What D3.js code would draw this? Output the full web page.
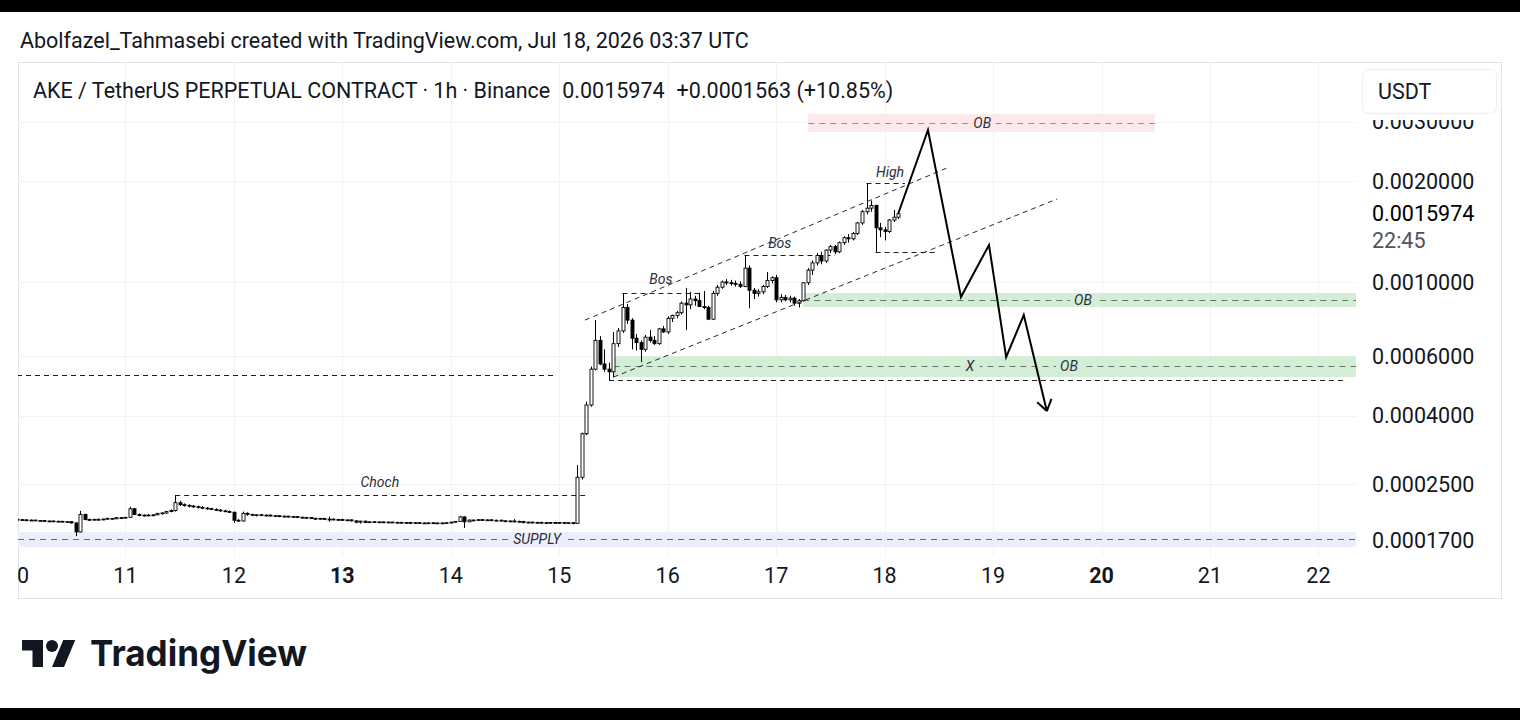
<!DOCTYPE html>
<html>
<head>
<meta charset="utf-8">
<script src="https://cdn.jsdelivr.net/npm/d3@7"></script>
<style>
  body { margin: 0; background: #fff; }
  svg { display: block; font-family: Roboto, "Noto Sans", sans-serif; }
  .note { font-style: italic; font-size: 14px; fill: #2a2e39; }
  .axis-label { font-size: 21.5px; fill: #131722; }
</style>
</head>
<body>
<svg id="chart" width="1520" height="720"></svg>
<script>
const PRICE_UNIT = 1e-7;                 // candle values are in 1e-7 USDT
const START = Date.UTC(2026, 6, 10);     // first candle, Jul 10 00:00 UTC
const HOUR = 3600 * 1000;

// hourly candles [open, high, low, close]
const jul10 = [
  [1962,1970,1952,1958],[1958,1966,1948,1955],[1955,1962,1946,1950],[1950,1960,1942,1952],
  [1952,1958,1940,1944],[1944,1952,1936,1946],[1946,1950,1932,1938],[1938,1948,1930,1940],
  [1940,1946,1928,1934],[1934,1944,1926,1936],[1936,1942,1925,1930],[1930,1940,1920,1932],
  [1932,1938,1905,1915],[1915,1920,1750,1800],[1800,2080,1795,2030],[2030,2040,1950,1960],
  [1960,1972,1950,1955],[1955,1968,1948,1962],[1962,1975,1955,1958],[1958,1970,1950,1966],
  [1966,1985,1960,1975],[1975,1982,1962,1970],[1970,1990,1965,1985],[1985,1995,1975,1980]
];
const jul11 = [
  [1980,1995,1970,1990],[1990,2140,1985,2110],[2110,2120,2020,2030],[2030,2045,2005,2015],
  [2015,2030,2000,2020],[2020,2035,2008,2012],[2012,2030,2005,2025],[2025,2050,2018,2045],
  [2045,2060,2030,2050],[2050,2080,2040,2070],[2070,2100,2060,2085],[2085,2318,2070,2200],
  [2200,2230,2150,2170],[2170,2190,2140,2160],[2160,2175,2130,2150],[2150,2165,2120,2140],
  [2140,2155,2115,2130],[2130,2150,2105,2120],[2120,2135,2095,2110],[2110,2125,2090,2100],
  [2100,2118,2080,2090],[2090,2105,2070,2080],[2080,2095,2060,2070],[2070,2085,2050,2060]
];
const jul12 = [
  [2060,2070,1915,1950],[1950,1965,1925,1940],[1940,2070,1935,2045],[2045,2060,2010,2030],
  [2030,2040,2005,2020],[2020,2035,2000,2025],[2025,2032,2005,2015],[2015,2030,2000,2020],
  [2020,2028,2000,2008],[2008,2022,1995,2012],[2012,2020,1992,2000],[2000,2015,1990,2005],
  [2005,2012,1985,1995],[1995,2010,1985,2000],[2000,2008,1980,1990],[1990,2000,1975,1982],
  [1982,1995,1970,1988],[1988,1992,1968,1975],[1975,1985,1962,1970],[1970,1982,1958,1975],
  [1975,1980,1955,1962],[1962,2000,1930,1965],[1965,1975,1950,1955],[1955,1968,1945,1960]
];
const jul13 = [
  [1960,1972,1945,1950],[1950,1962,1938,1955],[1955,1960,1935,1942],[1942,1950,1910,1925],
  [1925,1945,1905,1938],[1938,1945,1912,1920],[1920,1935,1912,1930],[1930,1938,1915,1925],
  [1925,1935,1915,1928],[1928,1934,1912,1920],[1920,1932,1910,1926],[1926,1930,1912,1918],
  [1918,1930,1908,1922],[1922,1928,1910,1915],[1915,1926,1905,1920],[1920,1928,1908,1912],
  [1912,1925,1905,1918],[1918,1924,1906,1914],[1914,1922,1904,1910],[1910,1920,1900,1916],
  [1916,1922,1902,1908],[1908,1918,1900,1914],[1914,1920,1902,1910],[1910,1922,1900,1918]
];
const jul14 = [
  [1918,1930,1908,1925],[1925,1940,1915,1935],[1935,2010,1930,1995],[1995,2005,1850,1930],
  [1930,1960,1925,1952],[1952,1962,1940,1948],[1948,1965,1942,1958],[1958,1968,1945,1950],
  [1950,1962,1940,1955],[1955,1965,1942,1946],[1946,1958,1935,1950],[1950,1960,1938,1942],
  [1942,1952,1930,1936],[1936,1948,1925,1940],[1940,1965,1920,1932],[1932,1945,1920,1935],
  [1935,1940,1910,1918],[1918,1930,1908,1925],[1925,1932,1910,1915],[1915,1928,1905,1922],
  [1922,1930,1910,1918],[1918,1926,1906,1914],[1914,1925,1905,1920],[1920,1928,1908,1915]
];
const jul15 = [
  [1915,1925,1905,1920],[1920,1928,1908,1912],[1912,1922,1902,1918],[1918,1925,1895,1910],
  [1910,2850,1900,2620],[2620,3560,2580,3530],[3530,4400,3500,4300],[4300,5600,4250,5500],
  [5500,7700,5450,6700],[6700,6900,5650,5700],[5700,6300,5400,5500],[5500,5750,5100,5400],
  [5400,7100,5200,6550],[6550,7300,6400,7150],[7150,9270,7050,8400],[8400,8600,7500,7700],
  [7700,7800,6300,6800],[6800,7000,6250,6600],[6600,6700,5780,6300],[6300,6950,6200,6850],
  [6850,7200,6600,6700],[6700,6900,6500,6550],[6550,7300,6500,7250],[7250,7400,7050,7100]
];
const jul16 = [
  [7100,7900,7000,7800],[7800,8000,7600,7950],[7950,8200,7800,8100],[8100,8750,8000,8650],
  [8650,9600,7200,8550],[8550,9350,8300,8900],[8900,9100,8500,8800],[8800,9300,8600,8450],
  [8450,9400,8300,8400],[8400,8500,7700,7750],[7750,9400,7700,9250],[9250,9800,9100,9650],
  [9650,10100,9550,10000],[10000,10200,9800,9950],[9950,10150,9750,9900],[9900,10100,9700,9850],
  [9850,10050,9600,9700],[9700,12040,9650,11000],[11000,11200,8350,9450],[9450,9600,8900,9250],
  [9250,9500,9050,9350],[9350,9800,9200,9700],[9700,10700,9600,10100],[10100,10400,9900,10300]
];
const jul17 = [
  [10300,10500,8700,8850],[8850,9200,8700,9000],[9000,9150,8750,8850],[8850,9100,8700,8950],
  [8950,9050,8500,8650],[8650,8900,8400,8800],[8800,10000,8750,9950],[9950,11000,9800,10850],
  [10850,11600,10500,11400],[11400,12200,11200,12000],[12000,12300,11300,11550],[11550,12500,11400,12450],
  [12450,12900,12200,12750],[12750,12900,12100,12300],[12300,13200,12200,13100],[13100,13700,12900,13550],
  [13550,13900,13100,13450],[13450,14100,13300,13950],[13950,15100,13800,15000],[15000,16400,14800,16200],
  [16200,19700,15900,16600],[16600,17500,16200,16900],[16900,17000,12300,14500],[14500,15000,13600,14300]
];
const jul18 = [
  [14300,14600,13300,14150],[14150,15400,14000,15300],[15300,16400,15100,15600],[15600,16100,15400,15974]
];
const days = [jul10, jul11, jul12, jul13, jul14, jul15, jul16, jul17, jul18];

const priceTicks = [0.003, 0.002, 0.001, 0.0006, 0.0004, 0.00025, 0.00017];
const dayLabels = [10, 11, 12, 13, 14, 15, 16, 17, 18, 19, 20, 21, 22];

const headerText = 'Abolfazel_Tahmasebi created with TradingView.com, Jul 18, 2026 03:37 UTC';
const symbolText = 'AKE / TetherUS PERPETUAL CONTRACT · 1h · Binance';
const changeText = '+0.0001563 (+10.85%)';
const countdown = '22:45';
const currency = 'USDT';

// drawings: time in hours after Jul 10 00:00 UTC, price in USDT, null = chart edge
const zones = [
  {kind: 'red', from: 175.1, to: 251.8, top: 0.003164, bottom: 0.002801, line: 0.002978},
  {kind: 'green', from: 174, to: null, top: 0.0009273, bottom: 0.0008424, line: 0.0008837},
  {kind: 'green', from: 132, to: null, top: 0.0006016, bottom: 0.0005208, line: 0.0005619},
  {kind: 'supply', from: null, to: null, top: 0.0001798, bottom: 0.0001622, line: 0.0001714}
];
const levels = [
  {from: 131, to: 293.9, price: 0.0005103},
  {from: 0, to: 119.5, price: 0.0005282},
  {from: 35, to: 126.1, price: 0.0002318},
  {from: 134, to: 151.2, price: 0.000927},
  {from: 161, to: 181, price: 0.001204},
  {from: 188, to: 196.5, price: 0.00197},
  {from: 190, to: 203.2, price: 0.00123}
];
const channel = [
  [[125.7, 0.00077], [205.8, 0.002187]],
  [[132, 0.0005208], [230.2, 0.001768]]
];
const projection = [
  [195, 0.0015974], [201.6, 0.002838], [208.9, 0.0009022], [215.1, 0.001289],
  [218.9, 0.0005976], [222.8, 0.0007972], [227.9, 0.0004125]
];
const notes = [
  {text: 'OB', at: 213.6, price: 0.002978, zone: 'red'},
  {text: 'OB', at: 235.9, price: 0.0008837, zone: 'green'},
  {text: 'X', at: 210.9, price: 0.0005619, zone: 'green'},
  {text: 'OB', at: 232.8, price: 0.0005619, zone: 'green'},
  {text: 'SUPPLY', at: 115.1, price: 0.0001714, zone: 'supply'},
  {text: 'Bos', at: 142.5, price: 0.001021, zone: null},
  {text: 'Bos', at: 168.8, price: 0.001307, zone: null},
  {text: 'High', at: 193.2, price: 0.002128, zone: null},
  {text: 'Choch', at: 80.3, price: 0.0002534, zone: null}
];

const zoneFill = {red: '#fde9eb', green: '#d4edd6', supply: '#eceefb'};
const zoneLine = {red: '#d9737e', green: '#5f7d63', supply: '#5566c4'};

/** Class drawing the TradingView style snapshot. */
class Snapshot {
  constructor(svg) {
    this.svg = svg;
    this.plot = {left: 18, right: 1356, top: 62, bottom: 556};
    this.x = d3.scaleUtc()
      .domain([new Date(START), new Date(Date.UTC(2026, 6, 22))])
      .range([17, 1318.4]);
    // visible price range of the log scale
    this.y = d3.scaleLog()
      .domain([0.0001526, 0.004525])
      .range([this.plot.bottom, this.plot.top]);
    this.candles = days.flat().map((c, i) => ({
      t: new Date(START + i * HOUR),
      o: c[0] * PRICE_UNIT, h: c[1] * PRICE_UNIT, l: c[2] * PRICE_UNIT, c: c[3] * PRICE_UNIT
    }));
  }

  tx(hours) {
    return this.x(new Date(START + hours * HOUR));
  }

  drawFrame() {
    const svg = this.svg;
    svg.append('rect').attr('width', 1520).attr('height', 12).attr('fill', '#000');
    svg.append('rect').attr('y', 708).attr('width', 1520).attr('height', 12).attr('fill', '#000');

    svg.append('text')
      .attr('x', 20).attr('y', 48)
      .attr('font-size', 21.5).attr('fill', '#131722')
      .text(headerText)
    ;
    svg.append('rect')
      .attr('x', 18.5).attr('y', 62.5).attr('width', 1483).attr('height', 536)
      .attr('fill', 'none').attr('stroke', '#e0e3eb')
    ;

    const defs = svg.append('defs');
    defs.append('clipPath').attr('id', 'plot-clip')
      .append('rect')
      .attr('x', this.plot.left).attr('y', this.plot.top)
      .attr('width', this.plot.right - this.plot.left)
      .attr('height', this.plot.bottom - this.plot.top)
    ;
    // the currency button hides the top of the highest price label
    defs.append('clipPath').attr('id', 'price-clip')
      .append('rect').attr('x', 1357).attr('y', 120).attr('width', 150).attr('height', 475)
    ;
    defs.append('clipPath').attr('id', 'time-clip')
      .append('rect').attr('x', 18).attr('y', 556).attr('width', 1338).attr('height', 42)
    ;
  }

  drawGrid() {
    const g = this.svg.append('g').attr('clip-path', 'url(#plot-clip)');
    g.selectAll('.hgrid').data(priceTicks).enter()
      .append('line')
      .attr('x1', this.plot.left).attr('x2', this.plot.right)
      .attr('y1', d => Math.round(this.y(d)) + 0.5).attr('y2', d => Math.round(this.y(d)) + 0.5)
      .attr('stroke', '#f2f3f5')
    ;
    g.selectAll('.vgrid').data(dayLabels).enter()
      .append('line')
      .attr('x1', d => Math.round(this.x(new Date(Date.UTC(2026, 6, d)))) + 0.5)
      .attr('x2', d => Math.round(this.x(new Date(Date.UTC(2026, 6, d)))) + 0.5)
      .attr('y1', this.plot.top).attr('y2', this.plot.bottom)
      .attr('stroke', '#f2f3f5')
    ;
  }

  drawAxes() {
    const fmt = d3.format('.7f');
    const price = this.svg.append('g').attr('clip-path', 'url(#price-clip)');
    price.selectAll('text').data(priceTicks).enter()
      .append('text')
      .attr('class', 'axis-label')
      .attr('x', 1372).attr('y', d => this.y(d))
      .attr('dy', '0.35em')
      .text(d => fmt(d))
    ;
    const last = this.candles[this.candles.length - 1].c;
    price.append('text')
      .attr('class', 'axis-label')
      .attr('x', 1372).attr('y', this.y(last))
      .attr('dy', '0.35em').style('fill', '#000')
      .text(fmt(last))
    ;
    price.append('text')
      .attr('class', 'axis-label')
      .attr('x', 1372).attr('y', this.y(last) + 27)
      .attr('dy', '0.35em').style('fill', '#50535e')
      .text(countdown)
    ;

    const time = this.svg.append('g').attr('clip-path', 'url(#time-clip)');
    time.selectAll('text').data(dayLabels).enter()
      .append('text')
      .attr('class', 'axis-label')
      .attr('x', d => this.x(new Date(Date.UTC(2026, 6, d))))
      .attr('y', 575).attr('dy', '0.35em')
      .attr('text-anchor', 'middle')
      .attr('font-weight', d => new Date(Date.UTC(2026, 6, d)).getUTCDay() === 1 ? 700 : 400)
      .text(d => d)
    ;

    // currency button
    this.svg.append('rect')
      .attr('x', 1362.5).attr('y', 69.5).attr('width', 134).attr('height', 44).attr('rx', 6)
      .attr('fill', '#fff').attr('stroke', '#eceef2')
    ;
    this.svg.append('text')
      .attr('class', 'axis-label')
      .attr('x', 1378).attr('y', 91).attr('dy', '0.35em')
      .text(currency)
    ;
  }

  drawZones() {
    const g = this.svg.append('g').attr('clip-path', 'url(#plot-clip)');
    const x0 = d => d.from === null ? this.plot.left : this.tx(d.from);
    const x1 = d => d.to === null ? this.plot.right : this.tx(d.to);
    g.selectAll('rect').data(zones).enter()
      .append('rect')
      .attr('x', x0)
      .attr('y', d => this.y(d.top))
      .attr('width', d => x1(d) - x0(d))
      .attr('height', d => this.y(d.bottom) - this.y(d.top))
      .attr('fill', d => zoneFill[d.kind])
    ;
    g.selectAll('line').data(zones).enter()
      .append('line')
      .attr('x1', x0).attr('x2', x1)
      .attr('y1', d => Math.round(this.y(d.line)) + 0.5)
      .attr('y2', d => Math.round(this.y(d.line)) + 0.5)
      .attr('stroke', d => zoneLine[d.kind])
      .attr('stroke-dasharray', '6,5')
    ;
  }

  drawLevels() {
    const g = this.svg.append('g').attr('clip-path', 'url(#plot-clip)');
    g.selectAll('line').data(levels).enter()
      .append('line')
      .attr('x1', d => this.tx(d.from)).attr('x2', d => this.tx(d.to))
      .attr('y1', d => Math.round(this.y(d.price)) + 0.5)
      .attr('y2', d => Math.round(this.y(d.price)) + 0.5)
      .attr('stroke', '#1e1e1e')
      .attr('stroke-dasharray', '5,4')
    ;
  }

  drawCandles() {
    const g = this.svg.append('g').attr('clip-path', 'url(#plot-clip)');
    const bars = g.selectAll('g').data(this.candles).enter().append('g');
    bars.append('line')
      .attr('x1', d => Math.round(this.x(d.t)) + 0.5)
      .attr('x2', d => Math.round(this.x(d.t)) + 0.5)
      .attr('y1', d => this.y(d.h)).attr('y2', d => this.y(d.l))
      .attr('stroke', '#000')
    ;
    bars.append('rect')
      .attr('x', d => Math.round(this.x(d.t)) - 1)
      .attr('width', 3)
      .attr('y', d => this.y(Math.max(d.o, d.c)))
      .attr('height', d => Math.max(0.8, Math.abs(this.y(d.o) - this.y(d.c))))
      .attr('fill', d => d.c >= d.o ? '#fff' : '#000')
      .attr('stroke', '#000').attr('stroke-width', 0.9)
    ;
  }

  drawLines() {
    const g = this.svg.append('g').attr('clip-path', 'url(#plot-clip)');
    const line = d3.line().x(d => this.tx(d[0])).y(d => this.y(d[1]));
    g.selectAll('.chan').data(channel).enter()
      .append('path')
      .attr('d', line)
      .attr('fill', 'none').attr('stroke', '#2a2a2a')
      .attr('stroke-dasharray', '5,4')
    ;
    g.append('path')
      .attr('d', line(projection))
      .attr('fill', 'none').attr('stroke', '#000').attr('stroke-width', 2)
      .attr('stroke-linejoin', 'miter')
    ;
    // arrow head at the end of the projection
    const a = projection[projection.length - 2];
    const b = projection[projection.length - 1];
    const ex = this.tx(b[0]), ey = this.y(b[1]);
    const ang = Math.atan2(ey - this.y(a[1]), ex - this.tx(a[0]));
    [-0.6, 0.6].forEach(s => {
      g.append('line')
        .attr('x1', ex).attr('y1', ey)
        .attr('x2', ex - 13 * Math.cos(ang + s))
        .attr('y2', ey - 13 * Math.sin(ang + s))
        .attr('stroke', '#000').attr('stroke-width', 2)
      ;
    });
  }

  drawNotes() {
    const g = this.svg.append('g').attr('clip-path', 'url(#plot-clip)');
    notes.forEach(n => {
      const cx = this.tx(n.at), cy = this.y(n.price);
      const t = g.append('text')
        .attr('class', 'note')
        .attr('x', cx).attr('y', cy).attr('dy', '0.35em')
        .attr('text-anchor', 'middle')
        .text(n.text)
      ;
      if (n.zone) {
        const bb = t.node().getBBox();
        g.insert('rect', () => t.node())
          .attr('x', bb.x - 4).attr('y', cy - 3)
          .attr('width', bb.width + 8).attr('height', 6)
          .attr('fill', zoneFill[n.zone])
        ;
      }
    });
  }

  drawLegend() {
    const t = this.svg.append('text')
      .attr('x', 33).attr('y', 90).attr('dy', '0.35em')
      .attr('font-size', 21.5).attr('fill', '#131722')
    ;
    t.append('tspan').text(symbolText);
    t.append('tspan').attr('dx', 12).text(d3.format('.7f')(this.candles[this.candles.length - 1].c));
    t.append('tspan').attr('dx', 12).text(changeText);
  }

  drawLogo() {
    const g = this.svg.append('g').attr('transform', 'translate(22,634) scale(1.5)');
    g.append('path').attr('d', 'M14 22H7V11H0V4h14z M28 22h-8l7.5-18h8z').attr('fill', '#131722');
    g.append('circle').attr('cx', 20).attr('cy', 8).attr('r', 4).attr('fill', '#131722');
    this.svg.append('text')
      .attr('x', 90).attr('y', 666)
      .attr('font-family', 'Inter, Roboto, sans-serif')
      .attr('font-size', 36).attr('font-weight', 700)
      .attr('fill', '#131722')
      .attr('textLength', 217).attr('lengthAdjust', 'spacingAndGlyphs')
      .text('TradingView')
    ;
  }

  render() {
    this.drawFrame();
    this.drawGrid();
    this.drawZones();
    this.drawLevels();
    this.drawCandles();
    this.drawLines();
    this.drawNotes();
    this.drawAxes();
    this.drawLegend();
    this.drawLogo();
  }
}

new Snapshot(d3.select('#chart')).render();
</script>
</body>
</html>
